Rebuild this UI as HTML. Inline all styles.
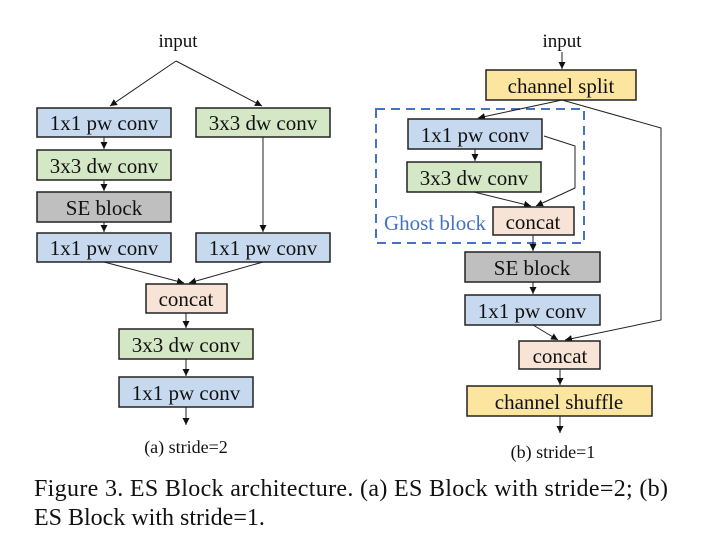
<!DOCTYPE html>
<html><head><meta charset="utf-8"><style>
body{margin:0;background:#fff;width:702px;height:543px;overflow:hidden}
svg{display:block}
svg text{font-family:"Liberation Serif","Times New Roman",serif;fill:#111}
.b{stroke:#222;stroke-width:1.5}
.l{stroke:#222;stroke-width:1;fill:none}
</style></head><body>
<svg width="702" height="543" viewBox="0 0 702 543" font-family="Liberation Serif, serif">
<defs><marker id="a" markerWidth="8" markerHeight="8" refX="7" refY="4" orient="auto" markerUnits="userSpaceOnUse"><path d="M0,0.5 L7,4 L0,7.5z" fill="#111"/></marker></defs>
<g font-size="21" text-anchor="middle">
<text x="178" y="47" font-size="19">input</text>
<path class="l" d="M176,61 L110,106" marker-end="url(#a)"/>
<path class="l" d="M176,61 L262,106" marker-end="url(#a)"/>
<rect class="b" x="37" y="108" width="134" height="29" fill="#c6d9ef"/><text x="104" y="130">1x1 pw conv</text>
<rect class="b" x="196" y="108" width="134" height="29" fill="#d5e8c6"/><text x="263" y="130">3x3 dw conv</text>
<path class="l" d="M104,137 L104,149" marker-end="url(#a)"/>
<rect class="b" x="37" y="150" width="134" height="30" fill="#d5e8c6"/><text x="104" y="173">3x3 dw conv</text>
<path class="l" d="M104,180 L104,191" marker-end="url(#a)"/>
<rect class="b" x="37" y="192" width="134" height="30" fill="#bfbfbf"/><text x="104" y="215">SE block</text>
<path class="l" d="M104,222 L104,232" marker-end="url(#a)"/>
<rect class="b" x="37" y="233" width="134" height="29" fill="#c6d9ef"/><text x="104" y="255">1x1 pw conv</text>
<path class="l" d="M263,137 L263,232" marker-end="url(#a)"/>
<rect class="b" x="196" y="233" width="134" height="29" fill="#c6d9ef"/><text x="263" y="255">1x1 pw conv</text>
<path class="l" d="M104,262 L184,283" marker-end="url(#a)"/>
<path class="l" d="M263,262 L189,283" marker-end="url(#a)"/>
<rect class="b" x="146" y="284" width="81" height="29" fill="#f8e4d7"/><text x="186" y="306">concat</text>
<path class="l" d="M186,313 L186,328" marker-end="url(#a)"/>
<rect class="b" x="119" y="329" width="134" height="30" fill="#d5e8c6"/><text x="186" y="352">3x3 dw conv</text>
<path class="l" d="M186,359 L186,376" marker-end="url(#a)"/>
<rect class="b" x="119" y="377" width="134" height="30" fill="#c6d9ef"/><text x="186" y="400">1x1 pw conv</text>
<path class="l" d="M186,407 L186,425" marker-end="url(#a)"/>
<text x="186" y="453" font-size="18">(a) stride=2</text>
<text x="562" y="47" font-size="19">input</text>
<path class="l" d="M562,52 L562,69" marker-end="url(#a)"/>
<rect class="b" x="486" y="70" width="150" height="30" fill="#fbe59f"/><text x="561" y="93">channel split</text>
<rect x="376" y="109" width="208" height="134" fill="none" stroke="#4472c4" stroke-width="2" stroke-dasharray="9,6"/>
<path class="l" d="M562,100 L478,118" marker-end="url(#a)"/>
<path class="l" d="M562,100 L661,128 L661,320 L565,340" marker-end="url(#a)"/>
<rect class="b" x="408" y="119" width="134" height="30" fill="#c6d9ef"/><text x="475" y="142">1x1 pw conv</text>
<path class="l" d="M475,149 L475,161" marker-end="url(#a)"/>
<rect class="b" x="407" y="162" width="134" height="30" fill="#d5e8c6"/><text x="474" y="185">3x3 dw conv</text>
<path class="l" d="M544,136 L575,146 L575,188 L536,206" marker-end="url(#a)"/>
<path class="l" d="M474,192 L531,206" marker-end="url(#a)"/>
<rect class="b" x="493" y="207" width="81" height="28" fill="#f8e4d7"/><text x="533" y="229">concat</text>
<text x="435" y="230" style="fill:#4472c4">Ghost block</text>
<path class="l" d="M533,235 L533,251" marker-end="url(#a)"/>
<rect class="b" x="465" y="252" width="135" height="30" fill="#bfbfbf"/><text x="532" y="275">SE block</text>
<path class="l" d="M533,282 L533,294" marker-end="url(#a)"/>
<rect class="b" x="465" y="295" width="135" height="30" fill="#c6d9ef"/><text x="532" y="318">1x1 pw conv</text>
<path class="l" d="M533,325 L558,340" marker-end="url(#a)"/>
<rect class="b" x="519" y="341" width="81" height="28" fill="#f8e4d7"/><text x="560" y="363">concat</text>
<path class="l" d="M560,369 L560,385" marker-end="url(#a)"/>
<rect class="b" x="467" y="386" width="185" height="30" fill="#fbe59f"/><text x="559" y="409">channel shuffle</text>
<path class="l" d="M560,416 L560,433" marker-end="url(#a)"/>
<text x="553" y="458" font-size="18">(b) stride=1</text>
</g>
<text x="34" y="496" font-size="24" textLength="634" lengthAdjust="spacing">Figure 3. ES Block architecture. (a) ES Block with stride=2; (b)</text>
<text x="34" y="525" font-size="24">ES Block with stride=1.</text>
</svg>
</body></html>
